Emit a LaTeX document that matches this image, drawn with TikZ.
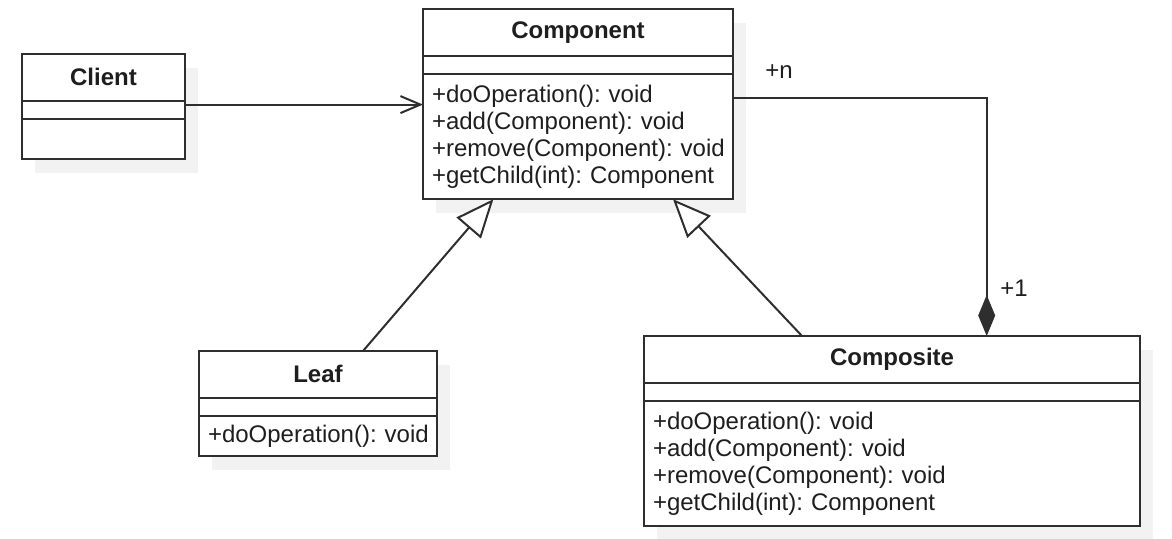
\documentclass[tikz,border=0pt]{standalone}
\usepackage{fontspec}
\setmainfont{Liberation Sans}
\frenchspacing
\usetikzlibrary{arrows.meta,positioning,backgrounds}

\definecolor{umlline}{HTML}{2E2E2E}
\definecolor{umltext}{HTML}{1E1E1E}
\definecolor{umlshadow}{HTML}{F2F2F2}

\begin{document}
\begin{tikzpicture}[
  x=0.5pt, y=-0.5pt,
  classhead/.style={draw=umlline, line width=1pt, fill=white, anchor=north west, outer sep=0pt, minimum height=23.3pt, font=\bfseries\fontsize{12}{14}\selectfont, text=umltext},
  classattr/.style={draw=umlline, line width=1pt, fill=white, outer sep=0pt, minimum height=9.4pt, inner sep=0pt},
  classops/.style={draw=umlline, line width=1pt, fill=white, outer sep=0pt, align=left, inner xsep=4.5pt, inner ysep=0pt, text width=#1, font=\fontsize{12}{13.65}\selectfont, text=umltext},
  mult/.style={inner sep=0pt, font=\fontsize{12}{14}\selectfont, text=umltext},
  assoc/.style={draw=umlline, line width=1pt, -{Straight Barb[length=10pt, width=8.5pt]}},
  inherit/.style={draw=umlline, line width=1pt, -{Triangle[open, length=19pt, width=16pt, fill=white]}},
  compose/.style={draw=umlline, line width=1pt, -{Diamond[length=20.5pt, width=8.5pt, fill=umlline]}}
]
\useasboundingbox (0,0) rectangle (1172,539);

% Client
\node[classhead, minimum width=81.5pt] (clienthead) at (22,54) {Client};
\node[classattr, minimum width=81.5pt, below=0pt of clienthead] (clientattr) {};
\node[classops=72.5pt, minimum height=19.8pt, below=0pt of clientattr] (clientops) {};

% Component
\node[classhead, minimum width=155pt] (comphead) at (423,9) {Component};
\node[classattr, minimum width=155pt, below=0pt of comphead] (compattr) {};
\node[classops=146pt, minimum height=62.4pt, below=0pt of compattr] (compops) {+doOperation():~void\\+add(Component):~void\\+remove(Component):~void\\+getChild(int):~Component};

% Leaf
\node[classhead, minimum width=119pt] (leafhead) at (199,351) {Leaf};
\node[classattr, minimum width=119pt, below=0pt of leafhead] (leafattr) {};
\node[classops=110pt, minimum height=19.8pt, below=0pt of leafattr] (leafops) {+doOperation():~void};

% Composite
\node[classhead, minimum width=248pt] (comphead2) at (644,336) {Composite};
\node[classattr, minimum width=248pt, below=0pt of comphead2] (compattr2) {};
\node[classops=239pt, minimum height=62.4pt, below=0pt of compattr2] (compops2) {+doOperation():~void\\+add(Component):~void\\+remove(Component):~void\\+getChild(int):~Component};

% Shadows
\begin{scope}[on background layer]
\fill[umlshadow] ([shift={(6.5pt,-7pt)}]clienthead.north west) rectangle ([shift={(6.5pt,-7pt)}]clientops.south east);
\fill[umlshadow] ([shift={(6.5pt,-7pt)}]comphead.north west) rectangle ([shift={(6.5pt,-7pt)}]compops.south east);
\fill[umlshadow] ([shift={(6.5pt,-7pt)}]leafhead.north west) rectangle ([shift={(6.5pt,-7pt)}]leafops.south east);
\fill[umlshadow] ([shift={(6.5pt,-7pt)}]comphead2.north west) rectangle ([shift={(6.5pt,-7pt)}]compops2.south east);
\end{scope}

% Association
\draw[assoc] ([yshift=-2pt]clientattr.north east) -- ([yshift=-2pt]clientattr.north east -| compops.west);

% Generalization
\draw[inherit] ([xshift=22.5pt]leafhead.north) -- ([xshift=-42.3pt]compops.south);
\draw[inherit] ([xshift=-45pt]comphead2.north) -- ([xshift=47.5pt]compops.south);

% Composition
\draw[compose] ([yshift=-12pt]compops.north east) -| ([xshift=47.35pt]comphead2.north);
\node[mult] (nlabel) at (779,72) {+n};
\node[mult] (onelabel) at (1014,288) {+1};
\end{tikzpicture}
\end{document}
